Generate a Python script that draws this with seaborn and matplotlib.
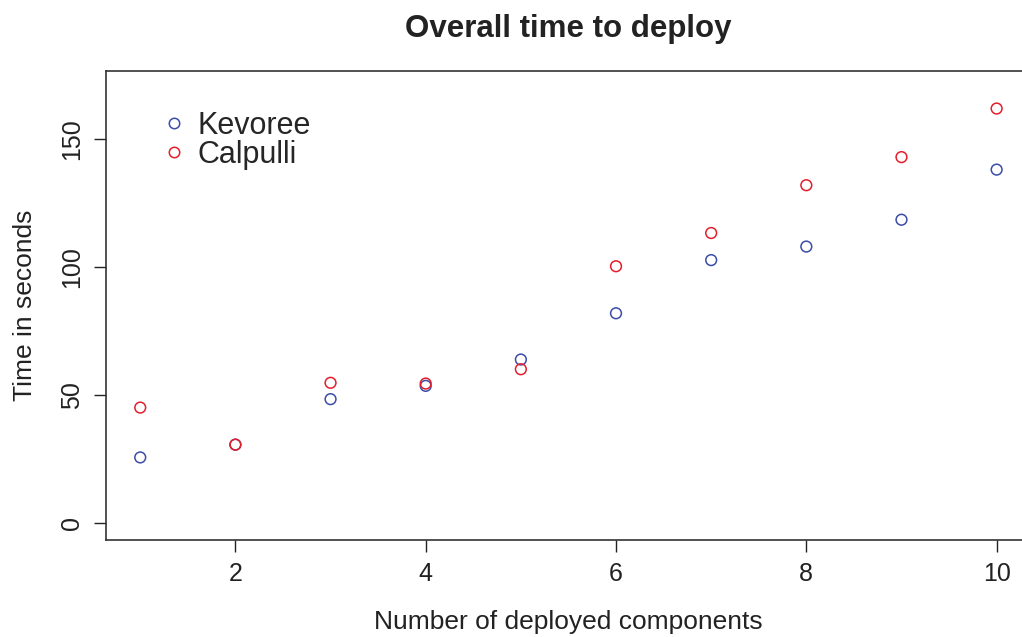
import matplotlib
matplotlib.use("Agg")
import matplotlib.pyplot as plt
import seaborn as sns
import pandas as pd
from matplotlib.lines import Line2D

components = [1, 2, 3, 4, 5, 6, 7, 8, 9, 10]
kevoree = [25.5, 30.5, 48.3, 53.5, 63.8, 81.9, 102.7, 108.0, 118.5, 138.1]
calpulli = [45.0, 30.5, 54.7, 54.4, 60.0, 100.3, 113.3, 132.0, 143.0, 162.0]
series = ["Kevoree", "Calpulli"]
colors = {"Kevoree": "#3C4DA8", "Calpulli": "#E41E2B"}

df = pd.DataFrame({
    "components": components * 2,
    "time": kevoree + calpulli,
    "tool": ["Kevoree"] * len(kevoree) + ["Calpulli"] * len(calpulli),
})

sns.set_style("white")
plt.rcParams["font.family"] = ["Liberation Sans", "DejaVu Sans"]

fig = plt.figure(figsize=(10.22, 6.37), dpi=100)
ax = fig.add_axes([0.1037, 0.1523, 0.905, 0.7367])

sns.scatterplot(data=df, x="components", y="time", hue="tool", hue_order=series,
                palette=colors, s=60, linewidth=1.1, legend=False, ax=ax)

# open circles like R's pch=1
coll = ax.collections[0]
fc = coll.get_facecolors()
coll.set_edgecolors(fc)
coll.set_facecolors("none")

ax.set_xlim(0.64, 10.36)
ax.set_ylim(-6.8, 176.8)
ax.set_xticks([2, 4, 6, 8, 10])
ax.set_yticks([0, 50, 100, 150])
ax.tick_params(axis="both", direction="out", length=8.6, width=1.0, color="#222222",
               labelsize=18, labelcolor="#222222", pad=7, left=True, bottom=True)
for lab in ax.get_yticklabels():
    lab.set_rotation(90)
    lab.set_va("center")

for sp in ax.spines.values():
    sp.set_color("#333333")
    sp.set_linewidth(1.2)

ax.set_xlabel("Number of deployed components", fontsize=19, color="#222222", labelpad=17.5)
ax.set_ylabel("Time in seconds", fontsize=19, color="#222222", labelpad=16.5)
ax.set_title("Overall time to deploy", fontsize=22.5, fontweight="bold", color="#222222", pad=24)

handles = [Line2D([], [], marker="o", linestyle="none", markerfacecolor="none",
                  markeredgecolor=colors[s], markersize=7.5, markeredgewidth=1.1) for s in series]
ax.legend(handles, series, loc="upper left", bbox_to_anchor=(0.1468, 0.8503),
          bbox_transform=fig.transFigure, frameon=False, fontsize=22,
          handlelength=0.6, handletextpad=0.46, labelspacing=-0.03, borderpad=0)

fig.savefig("out.png", dpi=100)
